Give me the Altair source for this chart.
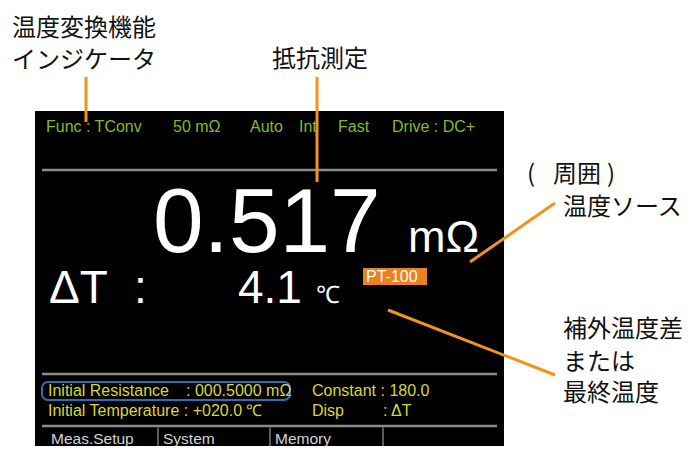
import altair as alt
import pandas as pd

# ---------------- data ----------------
# instrument screen frame
panel = {"x": [35], "x2": [504], "y": [111], "y2": [454]}

# horizontal divider lines on the screen (y positions)
divider_y = [170, 374, 429]
# soft-key separators (x positions)
softkey_sep_x = [158, 270, 383]

# status line
status_text = ["Func : TConv", "50 mΩ", "Auto", "Int", "Fast", "Drive : DC+"]
status_x = [46, 173, 250, 299, 338, 392]

# main reading
reading_text = ["0.517", "mΩ", "ΔT", ":", "4.1", "℃"]
reading_x = [153, 408, 49, 134, 238, 316]
reading_y = [252, 252, 303, 303, 303, 303]
reading_size = [91, 45, 46, 46, 46, 24]

# temperature source tag
tag_text = ["PT-100"]
tag_box = {"x": [363], "x2": [427], "y": [268], "y2": [285]}

# parameter area (yellow)
param_text = ["Initial Resistance", ": 000.5000 mΩ", "Constant : 180.0",
              "Initial Temperature : +020.0 ℃", "Disp", ": ΔT"]
param_x = [48, 186, 312, 48, 312, 383]
param_y = [396, 396, 396, 418, 418, 418]
select_box = {"x": [42], "x2": [290], "y": [382], "y2": [400]}

# soft keys
softkey_text = ["Meas.Setup", "System", "Memory"]
softkey_x = [51, 163, 275]

# callout annotations
note_text = ["温度変換機能", "インジケータ", "抵抗測定", "(", "周囲", ")",
             "温度ソース", "補外温度差", "または", "最終温度"]
note_x = [12, 12, 272, 527, 553, 607, 563, 563, 563, 563]
note_y = [29, 61, 60, 175, 175, 175, 208, 330, 363, 394]

# callout leader lines
leader_x = [86, 317, 555, 388]
leader_y = [77, 77, 203, 310]
leader_x2 = [86, 317, 470, 555]
leader_y2 = [122, 182, 262, 375]

# ---------------- chart ----------------
# page coordinates (the page has an 8px margin); bottom band slightly squeezed
XS = alt.Scale(domain=[8, 685], range=[0, 677], nice=False, zero=False)
YS = alt.Scale(domain=[8, 400, 429, 454], range=[0, 392, 418, 438],
               nice=False, zero=False)


def X(f="x"):
    return alt.X(f"{f}:Q", scale=XS, axis=None)


def Y(f="y"):
    return alt.Y(f"{f}:Q", scale=YS, axis=None)


panel_layer = alt.Chart(pd.DataFrame(panel)).mark_rect(color="#000000").encode(
    x=X(), x2="x2:Q", y=Y(), y2="y2:Q")

div_df = pd.DataFrame({"y": divider_y, "x": [42] * 3, "x2": [497] * 3})
div_layer = alt.Chart(div_df).mark_rule(color="#8c8c8c", strokeWidth=2.5).encode(
    x=X(), x2="x2:Q", y=Y())

sep_df = pd.DataFrame({"x": softkey_sep_x, "y": [431] * 3, "y2": [454] * 3})
sep_layer = alt.Chart(sep_df).mark_rule(color="#9a9a9a", strokeWidth=1.2).encode(
    x=X(), y=Y(), y2="y2:Q")

sel_layer = alt.Chart(pd.DataFrame(select_box)).mark_rect(
    cornerRadius=6, fillOpacity=0, stroke="#2f6db5", strokeWidth=2).encode(
    x=X(), x2="x2:Q", y=Y(), y2="y2:Q")

tag_layer = alt.Chart(pd.DataFrame(tag_box)).mark_rect(color="#ec8121").encode(
    x=X(), x2="x2:Q", y=Y(), y2="y2:Q")

tag_txt = alt.Chart(pd.DataFrame({"t": tag_text, "x": [366], "y": [282]})).mark_text(
    align="left", baseline="alphabetic", font="Liberation Sans", fontSize=16,
    color="#ffffff").encode(x=X(), y=Y(), text="t:N")

status_layer = alt.Chart(pd.DataFrame({"t": status_text, "x": status_x,
                                       "y": [132] * len(status_x)})).mark_text(
    align="left", baseline="alphabetic", font="Liberation Sans", fontSize=16,
    color="#82ba2a").encode(x=X(), y=Y(), text="t:N")

reading_layer = alt.Chart(pd.DataFrame({"t": reading_text, "x": reading_x,
                                        "y": reading_y, "s": reading_size})).mark_text(
    align="left", baseline="alphabetic", font="Liberation Sans",
    color="#ffffff").encode(x=X(), y=Y(), text="t:N",
                            size=alt.Size("s:Q", scale=None, legend=None))

param_layer = alt.Chart(pd.DataFrame({"t": param_text, "x": param_x,
                                      "y": param_y})).mark_text(
    align="left", baseline="alphabetic", font="Liberation Sans", fontSize=16,
    color="#d8d63a").encode(x=X(), y=Y(), text="t:N")

softkey_layer = alt.Chart(pd.DataFrame({"t": softkey_text, "x": softkey_x,
                                        "y": [451] * 3})).mark_text(
    align="left", baseline="alphabetic", font="Liberation Sans", fontSize=15.5,
    color="#d4d4d4").encode(x=X(), y=Y(), text="t:N")

leader_layer = alt.Chart(pd.DataFrame({"x": leader_x, "y": leader_y,
                                       "x2": leader_x2, "y2": leader_y2})).mark_rule(
    color="#f2931c", strokeWidth=3).encode(x=X(), y=Y(), x2="x2:Q", y2="y2:Q")

note_layer = alt.Chart(pd.DataFrame({"t": note_text, "x": note_x,
                                     "y": note_y})).mark_text(
    align="left", baseline="middle", font="Noto Sans CJK JP", fontSize=24,
    color="#111111").encode(x=X(), y=Y(), text="t:N")

chart = alt.layer(
    panel_layer, div_layer, sep_layer, sel_layer, tag_layer, tag_txt,
    status_layer, reading_layer, param_layer, softkey_layer,
    leader_layer, note_layer
).properties(
    width=677, height=438, padding=0, background="#ffffff",
    autosize=alt.AutoSizeParams(type="none")
).configure_view(stroke=None)

chart.save("out.html", embed_options={"renderer": "svg", "actions": False})
